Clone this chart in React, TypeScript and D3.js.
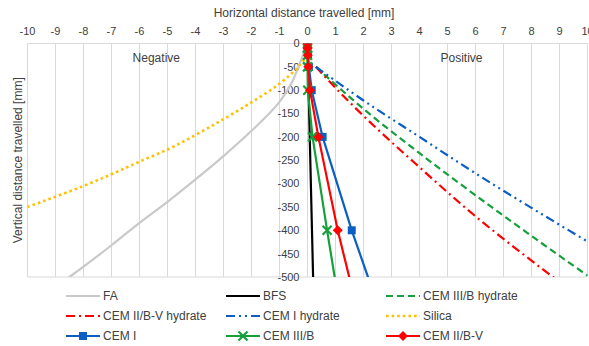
import React, { useEffect, useRef } from 'react';
import * as d3 from 'd3';

// axis ticks
const xTicks = d3.range(-10, 11, 1);
const yTicks = d3.range(0, -501, -50);

// depths for the measured series (last point sits below the frame and is clipped)
const measuredDepth = [0, -10, -25, -50, -100, -200, -400, -600];
const cemIX = [0, 0, 0.02, 0.05, 0.15, 0.54, 1.58, 2.74];
const cemIIIBX = [0, 0, 0, 0, 0.01, 0.18, 0.70, 1.24];
const cemIIBVX = [0, 0, 0.01, 0.03, 0.09, 0.39, 1.08, 1.90];

const bfsDepth = [0, -100, -200, -400, -500];
const bfsX = [0, 0.04, 0.08, 0.16, 0.2];

// curved model lines on the negative side
const faX = [0, -0.1, -0.27, -0.6, -1, -2, -3, -4, -5, -6, -7, -8.5, -9.2];
const faDepth = [0, -15, -42, -88, -125, -187, -241, -291, -339, -384, -432, -500, -530];
const silicaX = [0, -0.27, -1, -2, -3, -4, -5, -6, -7, -8, -9, -10];
const silicaDepth = [-25, -46, -86, -126, -162, -196, -227, -253, -280, -305, -328, -350];

// hydrate lines on the positive side
const hydrateX = [0.3, 1, 2, 4, 6, 8, 10];
const cemIIIBHydrateDepth = [-50, -88, -140, -235, -325, -412, -497];
const cemIIBVHydrateDepth = [-50, -95, -155, -265, -370, -465, -555];
const cemIHydrateDepth = [-50, -80, -122, -200, -278, -352, -424];

type Marker = 'square' | 'x' | 'diamond' | null;
interface Series { name: string; xs: number[]; ys: number[]; color: string; dash?: string; width: number; marker: Marker; curved?: boolean }

const series: Series[] = [
  { name: 'FA', xs: faX, ys: faDepth, color: '#c9c9c9', width: 2.2, marker: null, curved: true },
  { name: 'BFS', xs: bfsX, ys: bfsDepth, color: '#000000', width: 2.2, marker: null },
  { name: 'CEM III/B hydrate', xs: hydrateX, ys: cemIIIBHydrateDepth, color: '#15a03c', width: 2.2, marker: null, dash: '7,4', curved: true },
  { name: 'CEM II/B-V hydrate', xs: hydrateX, ys: cemIIBVHydrateDepth, color: '#ff0000', width: 2.2, marker: null, dash: '9,4,2,4', curved: true },
  { name: 'CEM I hydrate', xs: hydrateX, ys: cemIHydrateDepth, color: '#0b5fc4', width: 2.2, marker: null, dash: '9,4,2,4,2,4', curved: true },
  { name: 'Silica', xs: silicaX, ys: silicaDepth, color: '#ffc000', width: 2.6, marker: null, dash: '2.6,3', curved: true },
  { name: 'CEM I', xs: cemIX, ys: measuredDepth, color: '#0b5fc4', width: 2.2, marker: 'square' },
  { name: 'CEM III/B', xs: cemIIIBX, ys: measuredDepth, color: '#15a03c', width: 2.2, marker: 'x' },
  { name: 'CEM II/B-V', xs: cemIIBVX, ys: measuredDepth, color: '#ff0000', width: 2.2, marker: 'diamond' },
];

const W = 589;
const H = 346;
const font = '"Liberation Sans", Arial, sans-serif';
const textColor = '#404040';

function drawMarker(g: any, kind: Marker, cx: number, cy: number, color: string) {
  if (kind === 'square') {
    g.append('rect').attr('x', cx - 4).attr('y', cy - 4).attr('width', 8).attr('height', 8).attr('fill', color);
  } else if (kind === 'diamond') {
    g.append('path').attr('d', `M${cx},${cy - 5}L${cx + 5},${cy}L${cx},${cy + 5}L${cx - 5},${cy}Z`).attr('fill', color);
  } else if (kind === 'x') {
    g.append('path').attr('d', `M${cx - 4.5},${cy - 4.5}L${cx + 4.5},${cy + 4.5}M${cx - 4.5},${cy + 4.5}L${cx + 4.5},${cy - 4.5}`)
      .attr('stroke', color).attr('stroke-width', 2.2).attr('fill', 'none');
  }
}

export default function App() {
  const svgRef = useRef<SVGSVGElement>(null);

  useEffect(() => {
    if (!svgRef.current) return;
    const svg = d3.select(svgRef.current);
    svg.selectAll('*').remove();

    const x = d3.scaleLinear().domain([-10, 10]).range([27.5, 587.5]);
    const y = d3.scaleLinear().domain([0, -500]).range([43.5, 277]);
    const [y0, y1] = y.range();

    svg.append('defs').append('clipPath').attr('id', 'plot-clip')
      .append('rect').attr('x', x(-10)).attr('y', y0).attr('width', x(10) - x(-10)).attr('height', y1 - y0);

    // grid + frame
    const grid = svg.append('g');
    grid.selectAll('line.v').data(xTicks).enter().append('line')
      .attr('x1', d => x(d)).attr('x2', d => x(d)).attr('y1', y0).attr('y2', y1)
      .attr('stroke', '#d9d9d9').attr('stroke-width', 1);
    grid.append('line').attr('x1', x(-10)).attr('x2', x(10)).attr('y1', y1).attr('y2', y1).attr('stroke', '#d9d9d9');
    grid.append('line').attr('x1', x(-10)).attr('x2', x(10)).attr('y1', y0).attr('y2', y0).attr('stroke', '#d9d9d9');

    // x tick labels (top)
    svg.append('g').selectAll('text').data(xTicks).enter().append('text')
      .attr('x', d => x(d)).attr('y', 35).attr('text-anchor', 'middle')
      .attr('fill', textColor).style('font-family', font).style('font-size', '11px')
      .text(d => String(d));

    // y tick labels (next to the zero line)
    svg.append('g').selectAll('text').data(yTicks).enter().append('text')
      .attr('x', x(0) - 8).attr('y', d => y(d)).attr('dy', '0.35em').attr('text-anchor', 'end')
      .attr('fill', textColor).style('font-family', font).style('font-size', '11px')
      .text(d => String(d));

    // titles
    svg.append('text').attr('x', 304).attr('y', 17).attr('text-anchor', 'middle').attr('fill', textColor)
      .style('font-family', font).style('font-size', '12px').text('Horizontal distance travelled [mm]');
    svg.append('text').attr('transform', `translate(22,${(y0 + y1) / 2}) rotate(-90)`).attr('text-anchor', 'middle').attr('fill', textColor)
      .style('font-family', font).style('font-size', '12px').text('Vertical distance travelled [mm]');
    svg.append('text').attr('x', x(-5.4)).attr('y', 62).attr('text-anchor', 'middle').attr('fill', textColor)
      .style('font-family', font).style('font-size', '12px').text('Negative');
    svg.append('text').attr('x', x(5.5)).attr('y', 62).attr('text-anchor', 'middle').attr('fill', textColor)
      .style('font-family', font).style('font-size', '12px').text('Positive');

    // series
    const plot = svg.append('g').attr('clip-path', 'url(#plot-clip)');
    series.forEach(s => {
      const pts = s.xs.map((v, i) => [v, s.ys[i]] as [number, number]);
      const line = d3.line<[number, number]>().x(d => x(d[0])).y(d => y(d[1]))
        .curve(s.curved ? d3.curveMonotoneY : d3.curveLinear);
      plot.append('path').datum(pts).attr('d', line).attr('fill', 'none')
        .attr('stroke', s.color).attr('stroke-width', s.width)
        .attr('stroke-dasharray', s.dash ?? null)
        .attr('stroke-linejoin', 'round');
      if (s.marker) {
        pts.filter(p => p[1] >= -500).forEach(p => drawMarker(plot, s.marker, x(p[0]), y(p[1]), s.color));
      }
    });

    // legend
    const legendCols = [66, 226, 386];
    const legendRows = [296, 316, 336];
    const legend = svg.append('g');
    series.forEach((s, i) => {
      const lx = legendCols[i % 3];
      const ly = legendRows[Math.floor(i / 3)];
      const item = legend.append('g');
      item.append('line').attr('x1', lx).attr('x2', lx + 34).attr('y1', ly).attr('y2', ly)
        .attr('stroke', s.color).attr('stroke-width', s.width).attr('stroke-dasharray', s.dash ?? null);
      if (s.marker) drawMarker(item, s.marker, lx + 17, ly, s.color);
      item.append('text').attr('x', lx + 37).attr('y', ly).attr('dy', '0.35em')
        .attr('fill', textColor).style('font-family', font).style('font-size', '12px').text(s.name);
    });
  }, []);

  return (
    <div style={{ position: 'fixed', left: 0, top: 0 }}>
      <svg ref={svgRef} width={W} height={H} viewBox={`0 0 ${W} ${H}`} style={{ display: 'block', background: '#fff' }} />
    </div>
  );
}
